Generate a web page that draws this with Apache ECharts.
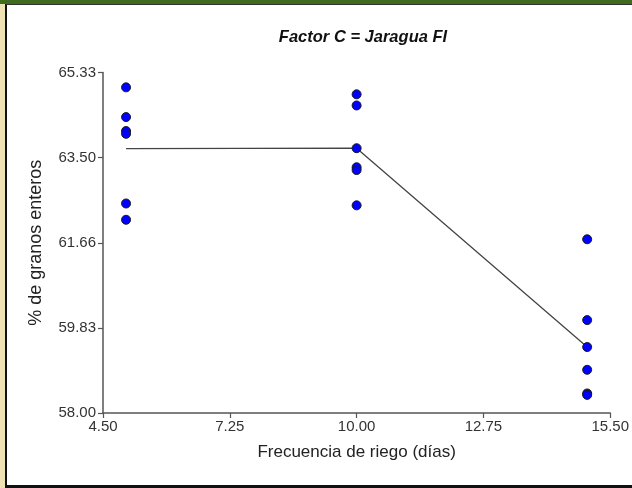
<!DOCTYPE html>
<html>
<head>
<meta charset="utf-8">
<script src="https://cdn.jsdelivr.net/npm/echarts@6/dist/echarts.min.js"></script>
<style>
  html, body { margin: 0; padding: 0; width: 632px; height: 488px; overflow: hidden; background: #eee1b4; }
  #topbar { position: absolute; left: 0; top: 0; width: 632px; height: 4px; background: #3f6b1f; }
  #panel { position: absolute; left: 5px; top: 4px; width: 627px; height: 484px; background: #ffffff;
           border-left: 2px solid #111; border-top: 1px solid #333; border-bottom: 3px solid #111; box-sizing: border-box; }
  #chart { position: absolute; left: 0; top: 0; width: 632px; height: 488px; }
</style>
</head>
<body>
<div id="topbar"></div>
<div id="panel"></div>
<div id="chart"></div>
<script>
// Observations (x = irrigation frequency, days; y = % whole grains)
const obsX = [5, 5, 5, 5, 5, 5,
              10, 10, 10, 10, 10, 10,
              15, 15, 15, 15, 15, 15];
const obsY = [65.01, 64.37, 64.07, 64.01, 62.51, 62.16,
              64.86, 64.62, 63.70, 63.29, 63.23, 62.47,
              61.74, 60.00, 59.42, 58.93, 58.42, 58.39];
// Treatment means (line)
const meanX = [5, 10, 15];
const meanY = [63.69, 63.70, 59.42];
// Tick values and labels
const xTickValues = [4.5, 7.25, 10, 12.75, 15.5];
const xTickLabels = ['4.50', '7.25', '10.00', '12.75', '15.50'];
const yTickValues = [58, 59.8325, 61.665, 63.4975, 65.33];
const yTickLabels = ['58.00', '59.83', '61.66', '63.50', '65.33'];

function labelFor(values, labels) {
  return function (v) {
    let best = 0, d = Infinity;
    for (let i = 0; i < values.length; i++) {
      const dd = Math.abs(values[i] - v);
      if (dd < d) { d = dd; best = i; }
    }
    return labels[best];
  };
}

const chart = echarts.init(document.getElementById('chart'), null, { renderer: 'canvas' });
const font = '"Liberation Sans", Arial, sans-serif';
chart.setOption({
  backgroundColor: 'transparent',
  animation: false,
  title: {
    text: 'Factor C = Jaragua FI',
    left: 358, top: 24, textAlign: 'center',
    textStyle: { fontFamily: font, fontSize: 16.5, fontWeight: 'bold', fontStyle: 'italic', color: '#111' }
  },
  grid: { left: 103, right: 20, top: 72.5, bottom: 75, containLabel: false },
  xAxis: {
    type: 'value', min: 4.5, max: 15.5,
    name: 'Frecuencia de riego (días)', nameLocation: 'middle', nameGap: 31,
    nameTextStyle: { fontFamily: font, fontSize: 17, color: '#222' },
    axisLine: { show: true, lineStyle: { color: '#555', width: 1.5 } },
    axisTick: { show: true, length: 5, lineStyle: { color: '#555', width: 1.2 }, customValues: xTickValues },
    axisLabel: { customValues: xTickValues, formatter: labelFor(xTickValues, xTickLabels),
                 fontFamily: font, fontSize: 15, color: '#333', margin: 6 },
    splitLine: { show: false }
  },
  yAxis: {
    type: 'value', min: 58, max: 65.33,
    name: '% de granos enteros', nameLocation: 'middle', nameGap: 58,
    nameTextStyle: { fontFamily: font, fontSize: 18, color: '#222' },
    axisLine: { show: true, lineStyle: { color: '#555', width: 1.5 } },
    axisTick: { show: true, length: 5, lineStyle: { color: '#555', width: 1.2 }, customValues: yTickValues },
    axisLabel: { customValues: yTickValues, formatter: labelFor(yTickValues, yTickLabels),
                 fontFamily: font, fontSize: 15, color: '#333', margin: 7 },
    splitLine: { show: false }
  },
  series: [
    {
      type: 'line', z: 1,
      data: meanX.map((x, i) => [x, meanY[i]]),
      showSymbol: false, symbol: 'none',
      lineStyle: { color: '#444', width: 1.3 },
      silent: true
    },
    {
      type: 'scatter', z: 3,
      data: obsX.map((x, i) => [x, obsY[i]]),
      symbol: 'circle', symbolSize: 9,
      itemStyle: { color: '#0000ff', borderColor: '#1a1a1a', borderWidth: 1, opacity: 1 }
    }
  ]
});
</script>
</body>
</html>
